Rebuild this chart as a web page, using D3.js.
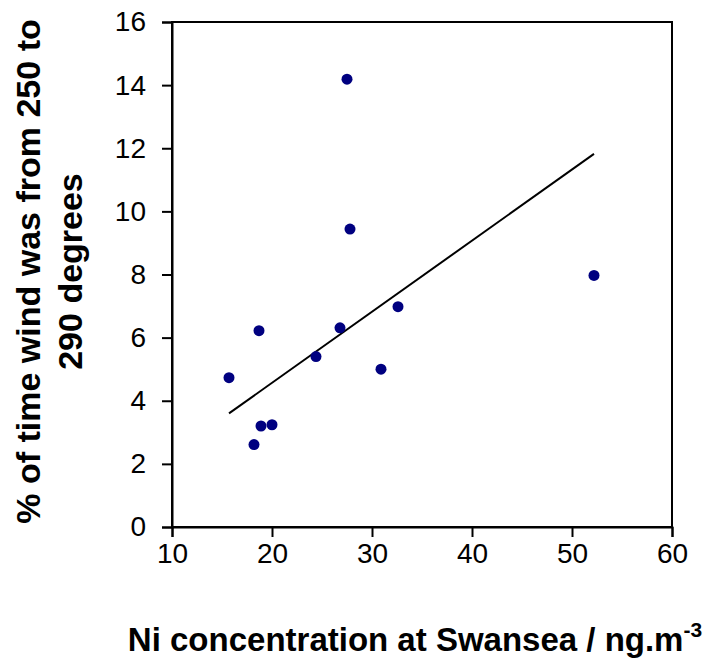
<!DOCTYPE html>
<html>
<head>
<meta charset="utf-8">
<script src="https://cdn.jsdelivr.net/npm/d3@7"></script>
<style>
  html, body { margin: 0; padding: 0; background: #fff; }
  svg text { font-family: "Liberation Sans", Arial, sans-serif; fill: #000; }
</style>
</head>
<body>
<svg id="chart" width="725" height="662"></svg>
<script>
// Data
const niConcentration = [15.7, 18.7, 18.2, 18.9, 20.0, 24.4, 26.8, 30.9, 32.6, 27.5, 52.2, 27.8];
const windPercent     = [4.73, 6.22, 2.61, 3.20, 3.24, 5.40, 6.31, 5.00, 6.98, 14.19, 7.97, 9.44];
const trendX = [15.7, 52.2];
const trendY = [3.60, 11.82];
const xTicks = [10, 20, 30, 40, 50, 60];
const yTicks = [0, 2, 4, 6, 8, 10, 12, 14, 16];
const xTitle = "Ni concentration at Swansea / ng.m";
const xTitleSup = "-3";
const yTitleLines = ["% of time wind was from 250 to", "290 degrees"];

const svg = d3.select("#chart");
const plot = { left: 172, top: 22, right: 672, bottom: 527 };

const x = d3.scaleLinear().domain([10, 60]).range([plot.left, plot.right]);
const y = d3.scaleLinear().domain([0, 16]).range([plot.bottom, plot.top]);

// Plot frame
svg.append("rect")
  .attr("x", plot.left).attr("y", plot.top)
  .attr("width", plot.right - plot.left).attr("height", plot.bottom - plot.top)
  .attr("fill", "none").attr("stroke", "#000").attr("stroke-width", 2);

// X axis
const xAxis = svg.append("g")
  .attr("transform", `translate(0,${plot.bottom})`)
  .call(d3.axisBottom(x).tickValues(xTicks).tickSize(10).tickPadding(6).tickFormat(d3.format("d")));
xAxis.select(".domain").attr("stroke-width", 2);
xAxis.selectAll(".tick line").attr("stroke-width", 2);
xAxis.selectAll("text").attr("font-size", 28).attr("font-family", "Liberation Sans, Arial, sans-serif");

// Y axis
const yAxis = svg.append("g")
  .attr("transform", `translate(${plot.left},0)`)
  .call(d3.axisLeft(y).tickValues(yTicks).tickSize(10).tickPadding(16).tickFormat(d3.format("d")));
yAxis.select(".domain").attr("stroke-width", 2);
yAxis.selectAll(".tick line").attr("stroke-width", 2);
yAxis.selectAll("text").attr("font-size", 28).attr("font-family", "Liberation Sans, Arial, sans-serif");

// Trend line
svg.append("line")
  .attr("x1", x(trendX[0])).attr("y1", y(trendY[0]))
  .attr("x2", x(trendX[1])).attr("y2", y(trendY[1]))
  .attr("stroke", "#000").attr("stroke-width", 2);

// Points
svg.append("g").selectAll("circle")
  .data(niConcentration.map((v, i) => [v, windPercent[i]]))
  .join("circle")
  .attr("cx", d => x(d[0])).attr("cy", d => y(d[1]))
  .attr("r", 5.5).attr("fill", "#000080");

// X title
const xt = svg.append("text")
  .attr("x", 415).attr("y", 651)
  .attr("text-anchor", "middle")
  .attr("font-size", 33).attr("font-weight", "bold");
xt.append("tspan").text(xTitle);
xt.append("tspan").attr("font-size", 21).attr("dy", -14).text(xTitleSup);

// Y title
const yt = svg.append("text")
  .attr("transform", `translate(0,${(plot.top + plot.bottom) / 2 - 3}) rotate(-90)`)
  .attr("text-anchor", "middle")
  .attr("font-size", 34).attr("font-weight", "bold");
yTitleLines.forEach((t, i) => {
  yt.append("tspan").attr("x", 0).attr("y", 40 + i * 42).text(t);
});
</script>
</body>
</html>
